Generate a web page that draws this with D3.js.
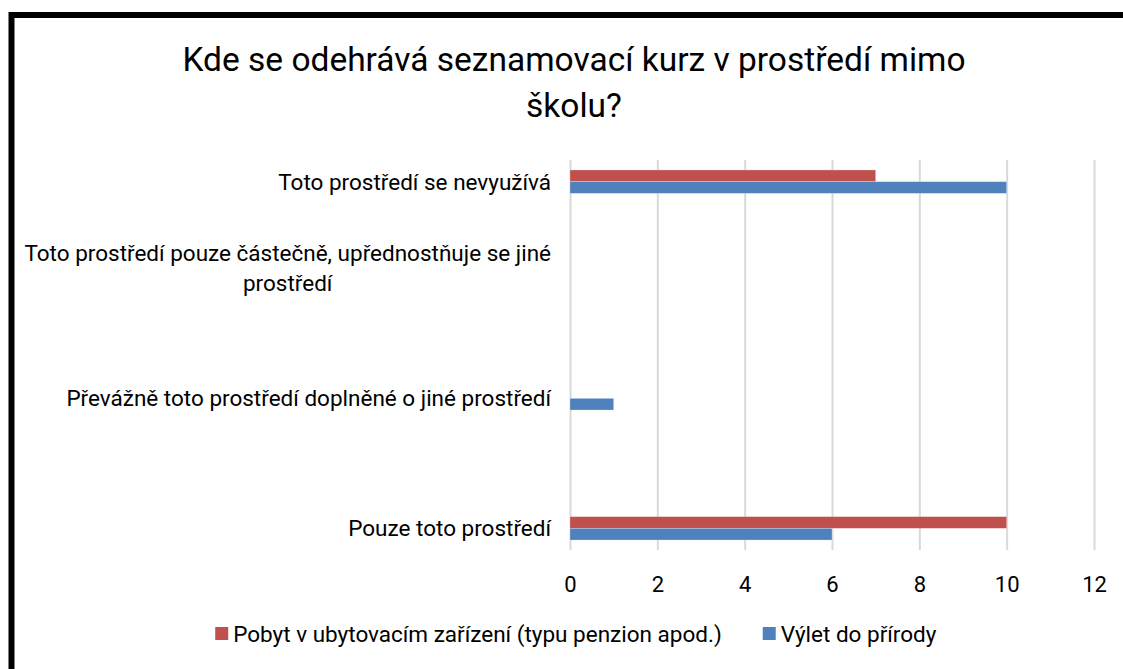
<!DOCTYPE html>
<html>
<head>
<meta charset="utf-8">
<script src="https://cdn.jsdelivr.net/npm/d3@7"></script>
<style>
  body { margin: 0; background: #fff; }
  svg text { font-family: Roboto, "Liberation Sans", sans-serif; fill: #000; }
</style>
</head>
<body>
<svg id="chart" width="1123" height="669"></svg>
<script>
// categories listed top to bottom, blank rows kept as empty labels
var categories = [
  "Toto prostředí se nevyužívá",
  "",
  "Toto prostředí pouze částečně, upřednostňuje se jiné\nprostředí",
  "",
  "",
  "Převážně toto prostředí doplněné o jiné prostředí",
  "",
  "",
  "Pouze toto prostředí"
];
var seriesNames = ["Pobyt v ubytovacím zařízení (typu penzion apod.)", "Výlet do přírody"];
var pobytValues = [7, null, 0, null, null, 0, null, null, 10];
var vyletValues = [10, null, 0, null, null, 1, null, null, 6];
var xTicks = [0, 2, 4, 6, 8, 10, 12];
var titleLines = ["Kde se odehrává seznamovací kurz v prostředí mimo", "školu?"];

var colors = ["#C0504D", "#4F81BD"];

var svg = d3.select("#chart");

// frame (only top and left edges are visible in the window)
svg.append("rect")
  .attr("x", 11.5).attr("y", 15)
  .attr("width", 1300).attr("height", 900)
  .attr("fill", "#fff")
  .attr("stroke", "#000")
  .attr("stroke-width", 6);

// title
svg.append("g").selectAll("text")
  .data(titleLines)
  .enter().append("text")
  .attr("x", 574)
  .attr("y", function(d, i) { return 71 + i * 46; })
  .attr("text-anchor", "middle")
  .style("font-size", "33.5px")
  .text(function(d) { return d; });

var x = d3.scaleLinear().domain([0, 12]).range([570, 1094]);
var y = d3.scaleBand().domain(d3.range(categories.length)).range([160, 550]).padding(0);
var ySub = d3.scaleBand().domain([0, 1]).range([0, y.bandwidth()]).paddingInner(0).paddingOuter(0.85);

// gridlines + tick labels
var xAxis = d3.axisBottom(x)
  .tickValues(xTicks)
  .tickSizeInner(-(550 - 160))
  .tickSizeOuter(0)
  .tickPadding(26);
var axisG = svg.append("g")
  .attr("transform", "translate(0,550)")
  .call(xAxis);
axisG.select(".domain").remove();
axisG.selectAll(".tick line").attr("stroke", "#D9D9D9").attr("stroke-width", 2);
axisG.selectAll(".tick text").style("font-size", "22px").attr("fill", "#000");

// bars
var rows = categories.map(function(c, i) {
  return { i: i, vals: [pobytValues[i], vyletValues[i]] };
});
var barG = svg.append("g");
rows.forEach(function(r) {
  barG.selectAll(null)
    .data(r.vals.map(function(v, s) { return { s: s, v: v }; }).filter(function(d) { return d.v; }))
    .enter().append("rect")
    .attr("x", x(0))
    .attr("y", function(d) { return y(r.i) + ySub(d.s); })
    .attr("width", function(d) { return x(d.v) - x(0); })
    .attr("height", ySub.bandwidth())
    .attr("fill", function(d) { return colors[d.s]; })
    .attr("stroke", "#fff")
    .attr("stroke-opacity", 0.35)
    .attr("stroke-width", 0.75);
});

// category labels: multi-line blocks right aligned, lines centred inside
var labelG = svg.append("g");
categories.forEach(function(c, i) {
  if (!c) return;
  var lines = c.split("\n");
  var lineH = 30;
  var cy = y(i) + y.bandwidth() / 2;
  var g = labelG.append("g");
  var texts = g.selectAll("text").data(lines).enter().append("text")
    .style("font-size", "22.5px")
    .attr("dy", "0.35em")
    .attr("y", function(d, k) { return cy + (k - (lines.length - 1) / 2) * lineH; })
    .text(function(d) { return d; });
  var widths = [];
  texts.each(function() { widths.push(this.getComputedTextLength()); });
  var blockW = d3.max(widths);
  var centre = 551 - blockW / 2;
  texts.attr("x", centre).attr("text-anchor", "middle");
});

// legend
var legend = svg.append("g");
var items = legend.selectAll("g").data(seriesNames).enter().append("g");
items.append("rect")
  .attr("width", 13).attr("height", 13)
  .attr("y", 627)
  .attr("fill", function(d, i) { return colors[i]; });
items.append("text")
  .attr("x", 18)
  .attr("y", 634)
  .attr("dy", "0.35em")
  .style("font-size", "22.5px")
  .text(function(d) { return d; });
var pos = 0, offsets = [];
items.each(function() {
  offsets.push(pos);
  pos += this.getBBox().width + 41;
});
var total = pos - 41;
var startX = 576 - total / 2;
items.attr("transform", function(d, i) { return "translate(" + (startX + offsets[i]) + ",0)"; });
</script>
</body>
</html>
